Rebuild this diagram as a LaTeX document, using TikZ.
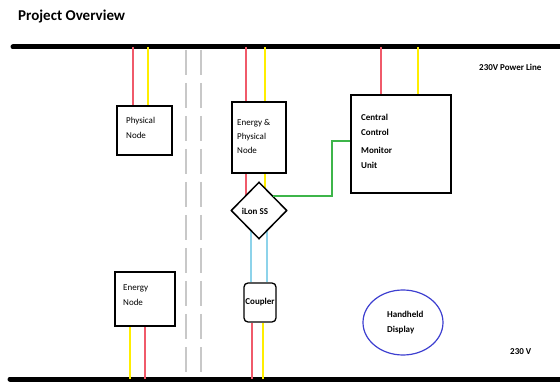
\documentclass[tikz,border=0pt]{standalone}
\usepackage{fontspec}
\setmainfont{Carlito}
\usetikzlibrary{shapes.geometric,backgrounds}
\definecolor{wred}{HTML}{F05A6A}
\definecolor{wyel}{HTML}{FFEE00}
\definecolor{wblue}{HTML}{8DD3EA}
\definecolor{wgreen}{HTML}{3DB54A}
\definecolor{wgray}{HTML}{C8C8C8}
\definecolor{ellblue}{HTML}{3D3FD0}
\tikzset{
  bus/.style={line width=5pt},
  box/.style={draw, line width=1.3pt, inner sep=0pt},
  redw/.style={draw=wred, line width=1.1pt},
  yelw/.style={draw=wyel, line width=1.3pt},
  bluew/.style={draw=wblue, line width=1.3pt},
  greenw/.style={draw=wgreen, line width=1.3pt},
  sep/.style={draw=wgray, line width=1.6pt, dash pattern=on 25pt off 8pt},
  lbl/.style={font=\fontsize{9}{15}\selectfont, align=left, inner sep=0pt, anchor=west},
  blbl/.style={lbl, font=\fontsize{9}{15}\selectfont\bfseries},
}
\begin{document}
\begin{tikzpicture}[x=1pt,y=-1pt]
\useasboundingbox (0,0) rectangle (560,382);
% title
\node[anchor=base west, inner sep=0pt, font=\fontsize{15}{18}\selectfont\bfseries] (title) at (18,20.5) {Project Overview};
% buses
\coordinate (tbl) at (13,47); \coordinate (tbr) at (560,47);
\coordinate (bbl) at (10,379); \coordinate (bbr) at (560,379);
\draw[bus, line cap=round] (tbl) -- (tbr);
\draw[bus, line cap=round] (bbl) -- (bbr);
% separators
\coordinate (s1t) at (186,50); \coordinate (s1b) at (186,377);
\coordinate (s2t) at (201,50); \coordinate (s2b) at (201,377);
\draw[sep] (s1t) -- (s1b);
\draw[sep] (s2t) -- (s2b);
% nodes
\node[box, minimum width=55pt, minimum height=49pt] (phys) at (144.5,130.5) {};
\node[box, minimum width=54pt, minimum height=71pt] (ep) at (259,137.5) {};
\node[box, minimum width=100pt, minimum height=98pt] (ccm) at (401,144) {};
\node[box, minimum width=60pt, minimum height=54pt] (en) at (145,299) {};
\node[draw, diamond, line width=1.5pt, fill=white, minimum width=56pt, minimum height=57pt, inner sep=0pt] (dia) at (259,210.5) {};
\node[box, rounded corners=4pt, fill=white, minimum width=32pt, minimum height=39pt, font=\fontsize{9}{15}\selectfont\bfseries] (cpl) at (260,302.5) {Coupler};
\node[draw=ellblue, ellipse, line width=1.2pt, minimum width=80pt, minimum height=65pt, inner sep=0pt] (hd) at (403,322.5) {};
% labels
\node[lbl] (physl) at (126,127.5) {Physical\\Node};
\node[lbl, font=\fontsize{9}{14}\selectfont] (epl) at (237,136) {Energy \&\\Physical\\Node};
\node[blbl] (ccml) at (361,141.5) {Central\\Control\\[3pt]Monitor\\Unit};
\node[lbl] (enl) at (123,295.5) {Energy\\Node};
\node[blbl, anchor=center] (dial) at (255,211) {iLon SS};
\node[blbl] (hdl) at (387,322.5) {Handheld\\Display};
\node[blbl] (pl) at (479,67) {230V Power Line};
\node[blbl] (vl) at (510,352) {230 V};
% top bus taps
\coordinate (t1) at (133,47); \coordinate (t2) at (148,47);
\coordinate (t3) at (246,47); \coordinate (t4) at (265,47);
\coordinate (t5) at (381,47); \coordinate (t6) at (418,47);
\draw[redw] (t1) -- (t1 |- phys.north);
\draw[yelw] (t2) -- (t2 |- phys.north);
\draw[redw] (t3) -- (t3 |- ep.north);
\draw[yelw] (t4) -- (t4 |- ep.north);
\draw[redw] (t5) -- (t5 |- ccm.north);
\draw[yelw] (t6) -- (t6 |- ccm.north);
% bottom bus taps
\coordinate (b1) at (130,379); \coordinate (b2) at (145,379);
\coordinate (b3) at (252,379); \coordinate (b4) at (263,379);
\draw[yelw] (b1) -- (b1 |- en.south);
\draw[redw] (b2) -- (b2 |- en.south);
\draw[redw] (b3) -- (b3 |- cpl.south);
\draw[yelw] (b4) -- (b4 |- cpl.south);
% wires behind diamond
\begin{scope}[on background layer]
\draw[redw] (ep.south -| t3) -- (t3 |- dia.center);
\draw[yelw] (ep.south -| t4) -- (t4 |- dia.center);
\coordinate (c1) at (251,0); \coordinate (c2) at (267,0);
\draw[bluew] (c1 |- dia.center) -- (c1 |- cpl.north);
\draw[bluew] (c2 |- dia.center) -- (c2 |- cpl.north);
\end{scope}
% green link
\coordinate (gb) at (332,141);
\draw[greenw] (dia.north east) -| (gb) -- (ccm.west |- gb);
\end{tikzpicture}
\end{document}
